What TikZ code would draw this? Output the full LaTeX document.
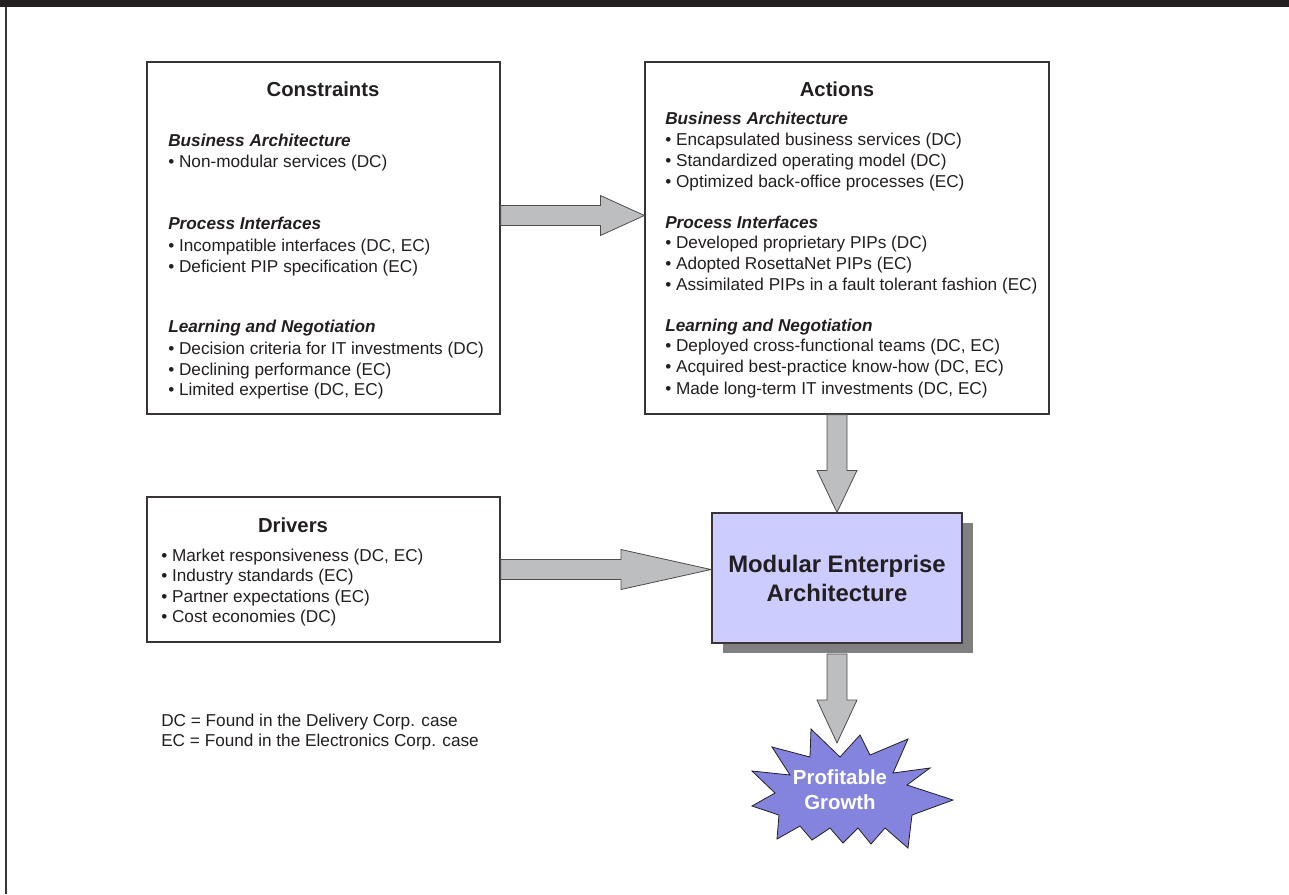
\documentclass[tikz,border=0pt]{standalone}
\usepackage{fontspec}
\setmainfont{Liberation Sans}
\usetikzlibrary{calc,shadows}
\newlength\px \setlength\px{0.75pt}
\definecolor{ink}{HTML}{231F20}
\definecolor{arrowgray}{HTML}{BCBEC0}
\definecolor{lav}{HTML}{CCCCFF}
\definecolor{starblue}{HTML}{8484DE}
\definecolor{shadowgray}{HTML}{808080}
\newcommand\hblock[3]{%
  \draw[blockarrow] let \p1=(#1), \p2=(#2) in
    (\x1,\y2+7.5pt) -- (\x2-#3,\y2+7.5pt) -- (\x2-#3,\y2+15pt) -- (\x2,\y2)
    -- (\x2-#3,\y2-15pt) -- (\x2-#3,\y2-7.5pt) -- (\x1,\y2-7.5pt) -- cycle;}
\newcommand\vblock[3]{%
  \draw[blockarrow] let \p1=(#1), \p2=(#2) in
    (\x2-7.5pt,\y1) -- (\x2-7.5pt,\y2+#3) -- (\x2-15pt,\y2+#3) -- (\x2,\y2)
    -- (\x2+15pt,\y2+#3) -- (\x2+7.5pt,\y2+#3) -- (\x2+7.5pt,\y1) -- cycle;}
\begin{document}
\begin{tikzpicture}[x=0.75pt,y=-0.75pt,
  box/.style={draw=ink!90, line width=0.9pt, rectangle, inner sep=0pt},
  txt/.style={anchor=west, inner sep=0pt, text=ink, text height=9.7pt, text depth=2.8pt,
    font=\fontsize{12.9}{15}\selectfont},
  hdr/.style={txt, font=\fontsize{12.9}{15}\selectfont\bfseries\itshape},
  ttl/.style={inner sep=0pt, text=ink, font=\fontsize{15.2}{18}\selectfont\bfseries},
  blockarrow/.style={fill=arrowgray, draw=ink!80, line width=0.6pt, line join=miter}
]
\useasboundingbox (0,0) rectangle (1289,894);
\fill[ink] (0,0) rectangle (1289,6.5);
\draw[ink!90, line width=0.8pt] (6,6.5) -- (6,894);

% Constraints
\node[box, minimum width=353\px, minimum height=352\px] (cons) at (323.5,238) {};
\node[ttl] (constitle) at (323,89) {Constraints};
\node[hdr] (c1) at (168,142) {Business Architecture};
\node[txt] (c2) at (168,163.3) {• Non-modular services (DC)};
\node[hdr] (c3) at (168,225) {Process Interfaces};
\node[txt] (c4) at (168,246.7) {• Incompatible interfaces (DC, EC)};
\node[txt] (c5) at (168,267.7) {• Deficient PIP specification (EC)};
\node[hdr] (c6) at (168,328.3) {Learning and Negotiation};
\node[txt] (c7) at (168,350) {• Decision criteria for IT investments (DC)};
\node[txt] (c8) at (168,370.5) {• Declining performance (EC)};
\node[txt] (c9) at (168,391) {• Limited expertise (DC, EC)};

% Actions
\node[box, minimum width=404\px, minimum height=352\px] (acts) at (847,238) {};
\node[ttl] (actstitle) at (837,89) {Actions};
\node[hdr] (a1) at (665,120) {Business Architecture};
\node[txt] (a2) at (665,141) {• Encapsulated business services (DC)};
\node[txt] (a3) at (665,161.7) {• Standardized operating model (DC)};
\node[txt] (a4) at (665,182.7) {• Optimized back-office processes (EC)};
\node[hdr] (a5) at (665,224) {Process Interfaces};
\node[txt] (a6) at (665,244.3) {• Developed proprietary PIPs (DC)};
\node[txt] (a7) at (665,265) {• Adopted RosettaNet PIPs (EC)};
\node[txt] (a8) at (665,286) {• Assimilated PIPs in a fault tolerant fashion (EC)};
\node[hdr] (a9) at (665,326.7) {Learning and Negotiation};
\node[txt] (a10) at (665,347.3) {• Deployed cross-functional teams (DC, EC)};
\node[txt] (a11) at (665,368.3) {• Acquired best-practice know-how (DC, EC)};
\node[txt] (a12) at (665,389.5) {• Made long-term IT investments (DC, EC)};

% Drivers
\node[box, minimum width=353\px, minimum height=145\px] (drv) at (323.5,569.5) {};
\node[ttl] (drvtitle) at (293,525) {Drivers};
\node[txt] (d1) at (161,556.7) {• Market responsiveness (DC, EC)};
\node[txt] (d2) at (161,577.3) {• Industry standards (EC)};
\node[txt] (d3) at (161,597.7) {• Partner expectations (EC)};
\node[txt] (d4) at (161,618.3) {• Cost economies (DC)};

% Legend
\node[txt] (l1) at (161,721.7) {DC = Found in the Delivery Corp. case};
\node[txt] (l2) at (161,741.7) {EC = Found in the Electronics Corp. case};

% Modular Enterprise Architecture
\node[box, fill=lav, minimum width=250\px, minimum height=130\px, text=ink, align=center,
  font=\fontsize{17.9}{21.75}\selectfont\bfseries,
  drop shadow={shadow xshift=7.9pt, shadow yshift=-7.7pt, fill=shadowgray, opacity=1}]
  (mea) at (837,578) {Modular Enterprise\\Architecture};

% Profitable Growth starburst
\draw[fill=starblue, draw=ink, line width=0.6pt, line join=miter]
  (811,729) -- (840,757) -- (860,735) -- (870,755) -- (908,739) -- (893,773)
  -- (930,768) -- (907,785) -- (953,800) -- (912,815) -- (908,848) -- (885,828)
  -- (871,844) -- (858,828) -- (843,843) -- (830,828) -- (812,840) -- (800,826)
  -- (777,839) -- (779,815) -- (752,806) -- (775,793) -- (752,771) -- (790,775)
  -- (772,747) -- (810,757) -- cycle;
\node[inner sep=0pt, text=white, align=center, font=\fontsize{15.3}{18.75}\selectfont\bfseries]
  (pg) at (840,789.5) {Profitable\\Growth};

% Connectors (block arrows)
\coordinate (c2as) at (cons.east |- 0,215.5);
\coordinate (c2at) at (acts.west |- 0,215.5);
\hblock{c2as}{c2at}{33pt}
\coordinate (d2ms) at (drv.east |- 0,569.5);
\coordinate (d2mt) at (711,569.5);
\hblock{d2ms}{d2mt}{67.5pt}
\coordinate (a2ms) at (mea.north |- acts.south);
\vblock{a2ms}{mea.north}{31.5pt}
\coordinate (m2gs) at ($(mea.south)+(0,10.3)$);
\coordinate (m2gt) at (837,743);
\vblock{m2gs}{m2gt}{32.25pt}
\end{tikzpicture}
\end{document}
